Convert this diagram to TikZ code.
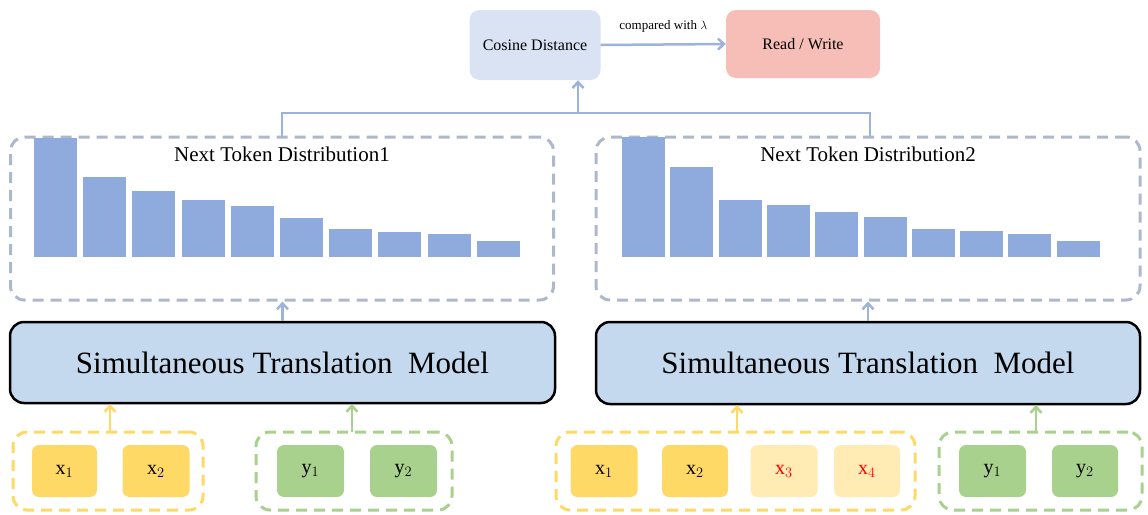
\documentclass[tikz,border=0pt]{standalone}
\usepackage{fontspec}
\setmainfont{Liberation Serif}
\usetikzlibrary{arrows.meta}
\definecolor{bar}{HTML}{8FAADC}
\definecolor{dashb}{HTML}{ADB9CA}
\definecolor{arr}{HTML}{9DB3D9}
\definecolor{yel}{HTML}{FFD966}
\definecolor{lyel}{HTML}{FFEBB3}
\definecolor{grn}{HTML}{A9D18E}
\definecolor{model}{HTML}{C5D9EE}
\definecolor{cos}{HTML}{DAE3F3}
\definecolor{rw}{HTML}{F7BDB7}
\begin{document}
\begin{tikzpicture}[x=1pt,y=-1pt,
  dbox/.style={draw=#1,dashed,dash pattern=on 11pt off 7pt,line width=3pt,rounded corners=14pt},
  tok/.style={fill=#1,rounded corners=7pt,inner sep=0pt,font=\fontsize{20}{22}\selectfont},
  up/.style={draw=#1,line width=2.5pt,-{Straight Barb[length=6pt,width=11pt]}},
  modl/.style={draw=black,line width=2.5pt,fill=model,rounded corners=14pt,font=\fontsize{31}{34}\selectfont}]
\useasboundingbox (0,0) rectangle (1148,514);
% top
\node[fill=cos,rounded corners=10pt,minimum width=131pt,minimum height=70pt,font=\fontsize{16}{18}\selectfont] (cos) at (535,45) {Cosine Distance};
\node[fill=rw,rounded corners=10pt,minimum width=154pt,minimum height=68pt,font=\fontsize{16}{18}\selectfont] (rw) at (803,44) {Read / Write};
\draw[up=arr] (cos.east) -- node[above,text=black,font=\fontsize{13}{15}\selectfont,yshift=8pt]{compared with $\lambda$} (rw.west);
% dist boxes
\node[dbox=dashb,minimum width=543pt,minimum height=163pt] (d1) at (282,218.5) {};
\node[dbox=dashb,minimum width=544pt,minimum height=163pt] (d2) at (868,218.5) {};
\node[font=\fontsize{21}{24}\selectfont] (t1) at (282,154) {Next Token Distribution1};
\node[font=\fontsize{21}{24}\selectfont] (t2) at (868,154) {Next Token Distribution2};
\foreach \t [count=\i from 0] in {138,177,191,200,206,218,229,232,234,241}
  \fill[bar] (34+49.2*\i,\t) rectangle ++(43,257-\t);
\foreach \t [count=\i from 0] in {137,167,200,205,212,217,229,231,234,241}
  \fill[bar] (622+48.3*\i,\t) rectangle ++(43,257-\t);
\coordinate (m) at (578,113);
\draw[arr,line width=2.5pt] (282,137) |- (870,113) -- (870,137);
\draw[up=arr] (m) -- (m|-cos.south);
% models
\node[modl,minimum width=545pt,minimum height=81pt] (m1) at (282.5,362.5) {Simultaneous Translation\ \ Model};
\node[modl,minimum width=544pt,minimum height=82pt] (m2) at (868,363) {Simultaneous Translation\ \ Model};
\draw[up=arr] (m1.north) -- (m1.north|-d1.south);
\draw[up=arr] (m2.north) -- (m2.north|-d2.south);
% inputs
\node[dbox=yel,minimum width=190pt,minimum height=78pt] (iy1) at (108,471) {};
\node[dbox=grn,minimum width=196pt,minimum height=78pt] (ig1) at (354,471) {};
\node[dbox=yel,minimum width=359pt,minimum height=78pt] (iy2) at (735.5,471) {};
\node[dbox=grn,minimum width=203pt,minimum height=78pt] (ig2) at (1040.5,471) {};
\node[tok=yel,minimum width=65pt,minimum height=52pt] (a1) at (64.5,471) {x$_1$};
\node[tok=yel,minimum width=67pt,minimum height=52pt] (a2) at (156,471) {x$_2$};
\node[tok=grn,minimum width=67pt,minimum height=52pt] (b1) at (310.5,471) {y$_1$};
\node[tok=grn,minimum width=67pt,minimum height=52pt] (b2) at (403.5,471) {y$_2$};
\node[tok=yel,minimum width=67pt,minimum height=52pt] (c1) at (604,471) {x$_1$};
\node[tok=yel,minimum width=66pt,minimum height=52pt] (c2) at (695,471) {x$_2$};
\node[tok=lyel,minimum width=67pt,minimum height=52pt,text=red] (c3) at (784,471) {x$_3$};
\node[tok=lyel,minimum width=66pt,minimum height=52pt,text=red] (c4) at (867,471) {x$_4$};
\node[tok=grn,minimum width=67pt,minimum height=52pt] (e1) at (992.5,471) {y$_1$};
\node[tok=grn,minimum width=66pt,minimum height=52pt] (e2) at (1085,471) {y$_2$};
\draw[up=yel] (110,432) -- (110,404);
\draw[up=grn] (352,432) -- (352,404);
\draw[up=yel] (737,432) -- (737,405);
\draw[up=grn] (1036,432) -- (1036,405);
\end{tikzpicture}
\end{document}
